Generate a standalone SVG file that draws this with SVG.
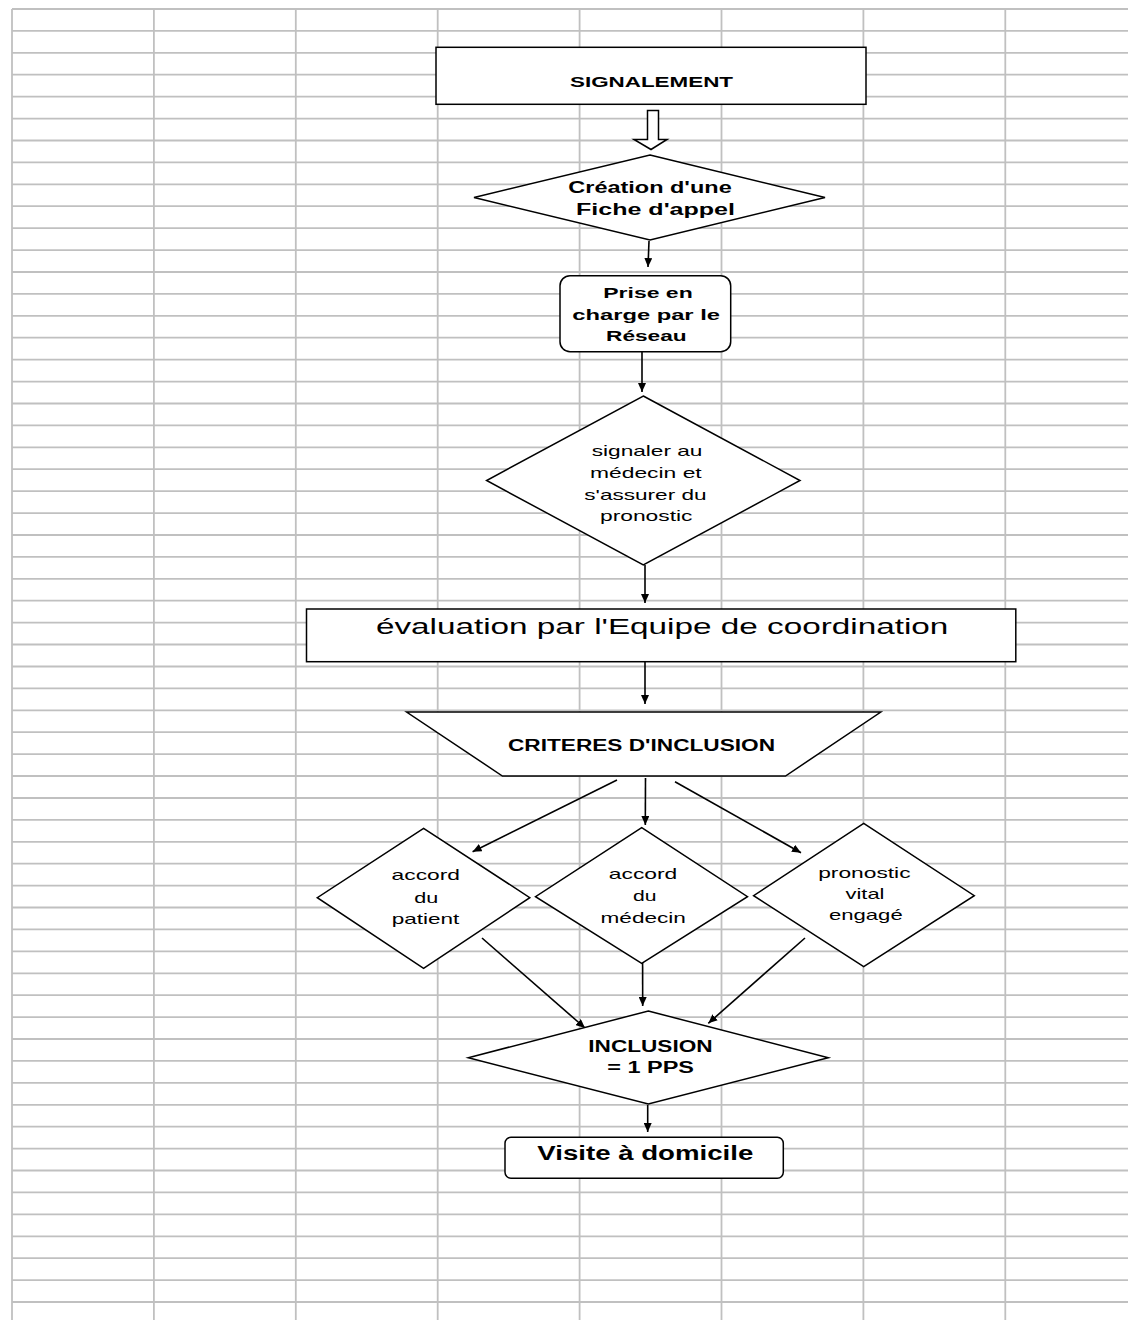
<svg xmlns="http://www.w3.org/2000/svg" width="1128" height="1320" viewBox="0 0 1128 1320">
<defs>
<style>
.grid line{stroke:#c0c0c0;stroke-width:1.8}
.shape{fill:#ffffff;stroke:#000000;stroke-width:1.5}
.conn line{stroke:#000000;stroke-width:1.6}
text{font-family:"Liberation Sans",Arial,sans-serif;fill:#000000}
.b{font-weight:bold}
</style>
<marker id="ah" markerUnits="userSpaceOnUse" markerWidth="9" markerHeight="8" refX="9" refY="4" orient="auto">
<path d="M0,0 L9,4 L0,8 z" fill="#000000"/>
</marker>
</defs>
<rect x="0" y="0" width="1128" height="1320" fill="#ffffff"/>
<g class="grid" id="grid">
<line x1="12" y1="9" x2="12" y2="1320"/>
<line x1="153.9" y1="9" x2="153.9" y2="1320"/>
<line x1="295.8" y1="9" x2="295.8" y2="1320"/>
<line x1="437.7" y1="9" x2="437.7" y2="1320"/>
<line x1="579.6" y1="9" x2="579.6" y2="1320"/>
<line x1="721.5" y1="9" x2="721.5" y2="1320"/>
<line x1="863.4" y1="9" x2="863.4" y2="1320"/>
<line x1="1005.3" y1="9" x2="1005.3" y2="1320"/>
<line x1="12" y1="9" x2="1128" y2="9"/>
<line x1="12" y1="30.9" x2="1128" y2="30.9"/>
<line x1="12" y1="52.8" x2="1128" y2="52.8"/>
<line x1="12" y1="74.7" x2="1128" y2="74.7"/>
<line x1="12" y1="96.7" x2="1128" y2="96.7"/>
<line x1="12" y1="118.6" x2="1128" y2="118.6"/>
<line x1="12" y1="140.5" x2="1128" y2="140.5"/>
<line x1="12" y1="162.4" x2="1128" y2="162.4"/>
<line x1="12" y1="184.3" x2="1128" y2="184.3"/>
<line x1="12" y1="206.2" x2="1128" y2="206.2"/>
<line x1="12" y1="228.2" x2="1128" y2="228.2"/>
<line x1="12" y1="250.1" x2="1128" y2="250.1"/>
<line x1="12" y1="272" x2="1128" y2="272"/>
<line x1="12" y1="293.9" x2="1128" y2="293.9"/>
<line x1="12" y1="315.8" x2="1128" y2="315.8"/>
<line x1="12" y1="337.7" x2="1128" y2="337.7"/>
<line x1="12" y1="359.6" x2="1128" y2="359.6"/>
<line x1="12" y1="381.6" x2="1128" y2="381.6"/>
<line x1="12" y1="403.5" x2="1128" y2="403.5"/>
<line x1="12" y1="425.4" x2="1128" y2="425.4"/>
<line x1="12" y1="447.3" x2="1128" y2="447.3"/>
<line x1="12" y1="469.2" x2="1128" y2="469.2"/>
<line x1="12" y1="491.1" x2="1128" y2="491.1"/>
<line x1="12" y1="513.1" x2="1128" y2="513.1"/>
<line x1="12" y1="535" x2="1128" y2="535"/>
<line x1="12" y1="556.9" x2="1128" y2="556.9"/>
<line x1="12" y1="578.8" x2="1128" y2="578.8"/>
<line x1="12" y1="600.7" x2="1128" y2="600.7"/>
<line x1="12" y1="622.6" x2="1128" y2="622.6"/>
<line x1="12" y1="644.5" x2="1128" y2="644.5"/>
<line x1="12" y1="666.5" x2="1128" y2="666.5"/>
<line x1="12" y1="688.4" x2="1128" y2="688.4"/>
<line x1="12" y1="710.3" x2="1128" y2="710.3"/>
<line x1="12" y1="732.2" x2="1128" y2="732.2"/>
<line x1="12" y1="754.1" x2="1128" y2="754.1"/>
<line x1="12" y1="776" x2="1128" y2="776"/>
<line x1="12" y1="798" x2="1128" y2="798"/>
<line x1="12" y1="819.9" x2="1128" y2="819.9"/>
<line x1="12" y1="841.8" x2="1128" y2="841.8"/>
<line x1="12" y1="863.7" x2="1128" y2="863.7"/>
<line x1="12" y1="885.6" x2="1128" y2="885.6"/>
<line x1="12" y1="907.5" x2="1128" y2="907.5"/>
<line x1="12" y1="929.4" x2="1128" y2="929.4"/>
<line x1="12" y1="951.4" x2="1128" y2="951.4"/>
<line x1="12" y1="973.3" x2="1128" y2="973.3"/>
<line x1="12" y1="995.2" x2="1128" y2="995.2"/>
<line x1="12" y1="1017.1" x2="1128" y2="1017.1"/>
<line x1="12" y1="1039" x2="1128" y2="1039"/>
<line x1="12" y1="1060.9" x2="1128" y2="1060.9"/>
<line x1="12" y1="1082.9" x2="1128" y2="1082.9"/>
<line x1="12" y1="1104.8" x2="1128" y2="1104.8"/>
<line x1="12" y1="1126.7" x2="1128" y2="1126.7"/>
<line x1="12" y1="1148.6" x2="1128" y2="1148.6"/>
<line x1="12" y1="1170.5" x2="1128" y2="1170.5"/>
<line x1="12" y1="1192.4" x2="1128" y2="1192.4"/>
<line x1="12" y1="1214.4" x2="1128" y2="1214.4"/>
<line x1="12" y1="1236.3" x2="1128" y2="1236.3"/>
<line x1="12" y1="1258.2" x2="1128" y2="1258.2"/>
<line x1="12" y1="1280.1" x2="1128" y2="1280.1"/>
<line x1="12" y1="1302" x2="1128" y2="1302"/>
</g>

<g id="connectors" class="conn">
<polygon class="shape" points="647.5,110.5 658.5,110.5 658.5,139.5 667,139.5 651,149.5 634,139.5 647.5,139.5"/>
<line x1="649" y1="241" x2="648" y2="267" marker-end="url(#ah)"/>
<line x1="642" y1="352" x2="642" y2="392" marker-end="url(#ah)"/>
<line x1="645" y1="565" x2="645" y2="603" marker-end="url(#ah)"/>
<line x1="645" y1="662" x2="645" y2="704" marker-end="url(#ah)"/>
<line x1="617" y1="780" x2="472.6" y2="851.7" marker-end="url(#ah)"/>
<line x1="645.5" y1="778" x2="645.3" y2="825" marker-end="url(#ah)"/>
<line x1="675" y1="781.7" x2="801" y2="852.7" marker-end="url(#ah)"/>
<line x1="482" y1="938" x2="585" y2="1028" marker-end="url(#ah)"/>
<line x1="642.6" y1="963" x2="642.7" y2="1006" marker-end="url(#ah)"/>
<line x1="805" y1="938" x2="708.3" y2="1023.3" marker-end="url(#ah)"/>
<line x1="647.7" y1="1105" x2="647.7" y2="1132" marker-end="url(#ah)"/>
</g>

<g id="signalement">
<rect class="shape" x="436" y="47.3" width="430" height="57"/>
<text class="b" x="570" y="86.5" font-size="15" textLength="163" lengthAdjust="spacingAndGlyphs">SIGNALEMENT</text>
</g>

<g id="creation-fiche">
<polygon class="shape" points="650,155 825,197.5 650,240 474,197.5"/>
<text class="b" x="568.3" y="193.3" font-size="16" textLength="163.4" lengthAdjust="spacingAndGlyphs">Création d'une</text>
<text class="b" x="576" y="215" font-size="16" textLength="159" lengthAdjust="spacingAndGlyphs">Fiche d'appel</text>
</g>

<g id="prise-en-charge">
<rect class="shape" x="560" y="275.7" width="170.7" height="76" rx="10" ry="10"/>
<text class="b" x="603.3" y="297.7" font-size="15" textLength="89.4" lengthAdjust="spacingAndGlyphs">Prise en</text>
<text class="b" x="572.3" y="320" font-size="15" textLength="147.7" lengthAdjust="spacingAndGlyphs">charge par le</text>
<text class="b" x="606" y="341" font-size="15" textLength="80.7" lengthAdjust="spacingAndGlyphs">Réseau</text>
</g>

<g id="signaler-medecin">
<polygon class="shape" points="643.3,396 800,480.5 643.3,565 486.6,480.5"/>
<text x="591.7" y="456.3" font-size="15" textLength="110.8" lengthAdjust="spacingAndGlyphs">signaler au</text>
<text x="590" y="477.8" font-size="15" textLength="111.7" lengthAdjust="spacingAndGlyphs">médecin et</text>
<text x="584.3" y="499.7" font-size="15" textLength="122.3" lengthAdjust="spacingAndGlyphs">s'assurer du</text>
<text x="600" y="520.7" font-size="15" textLength="92.5" lengthAdjust="spacingAndGlyphs">pronostic</text>
</g>

<g id="evaluation">
<rect class="shape" x="306.5" y="609" width="709.3" height="52.7"/>
<text x="375.9" y="634.3" font-size="22" textLength="572.4" lengthAdjust="spacingAndGlyphs">évaluation par l'Equipe de coordination</text>
</g>

<g id="criteres">
<polygon class="shape" points="406.6,712 880.8,712 785.5,776 502.4,776"/>
<text class="b" x="508" y="751" font-size="16" textLength="267" lengthAdjust="spacingAndGlyphs">CRITERES D'INCLUSION</text>
</g>

<g id="accord-patient">
<polygon class="shape" points="423.6,828.3 529.8,897.7 423.6,968.3 317.3,897.7"/>
<text x="391.6" y="879.5" font-size="15" textLength="68.4" lengthAdjust="spacingAndGlyphs">accord</text>
<text x="414.3" y="902.5" font-size="15" textLength="24" lengthAdjust="spacingAndGlyphs">du</text>
<text x="391.7" y="923.5" font-size="15" textLength="67.6" lengthAdjust="spacingAndGlyphs">patient</text>
</g>

<g id="accord-medecin">
<polygon class="shape" points="641.7,827.7 747.5,896.7 641.7,963.3 535.5,896.7"/>
<text x="608.8" y="879.3" font-size="15" textLength="68.5" lengthAdjust="spacingAndGlyphs">accord</text>
<text x="633" y="901" font-size="15" textLength="23.5" lengthAdjust="spacingAndGlyphs">du</text>
<text x="600.5" y="922.7" font-size="15" textLength="85.4" lengthAdjust="spacingAndGlyphs">médecin</text>
</g>

<g id="pronostic-vital">
<polygon class="shape" points="863.7,823.3 974.3,895.7 863.7,966.7 753.6,895.7"/>
<text x="818.2" y="877.5" font-size="15" textLength="92.4" lengthAdjust="spacingAndGlyphs">pronostic</text>
<text x="845.5" y="899.3" font-size="15" textLength="39" lengthAdjust="spacingAndGlyphs">vital</text>
<text x="829" y="920" font-size="15" textLength="73.7" lengthAdjust="spacingAndGlyphs">engagé</text>
</g>

<g id="inclusion">
<polygon class="shape" points="648.3,1011 828.3,1057.7 648.3,1104 468.3,1057.7"/>
<text class="b" x="588.3" y="1051.7" font-size="16" textLength="124.3" lengthAdjust="spacingAndGlyphs">INCLUSION</text>
<text class="b" x="607.3" y="1073.3" font-size="16" textLength="86.7" lengthAdjust="spacingAndGlyphs">= 1 PPS</text>
</g>

<g id="visite-domicile">
<rect class="shape" x="505" y="1137.3" width="278.3" height="41" rx="6" ry="6"/>
<text class="b" x="537.3" y="1160" font-size="20" textLength="216" lengthAdjust="spacingAndGlyphs">Visite à domicile</text>
</g>
</svg>
